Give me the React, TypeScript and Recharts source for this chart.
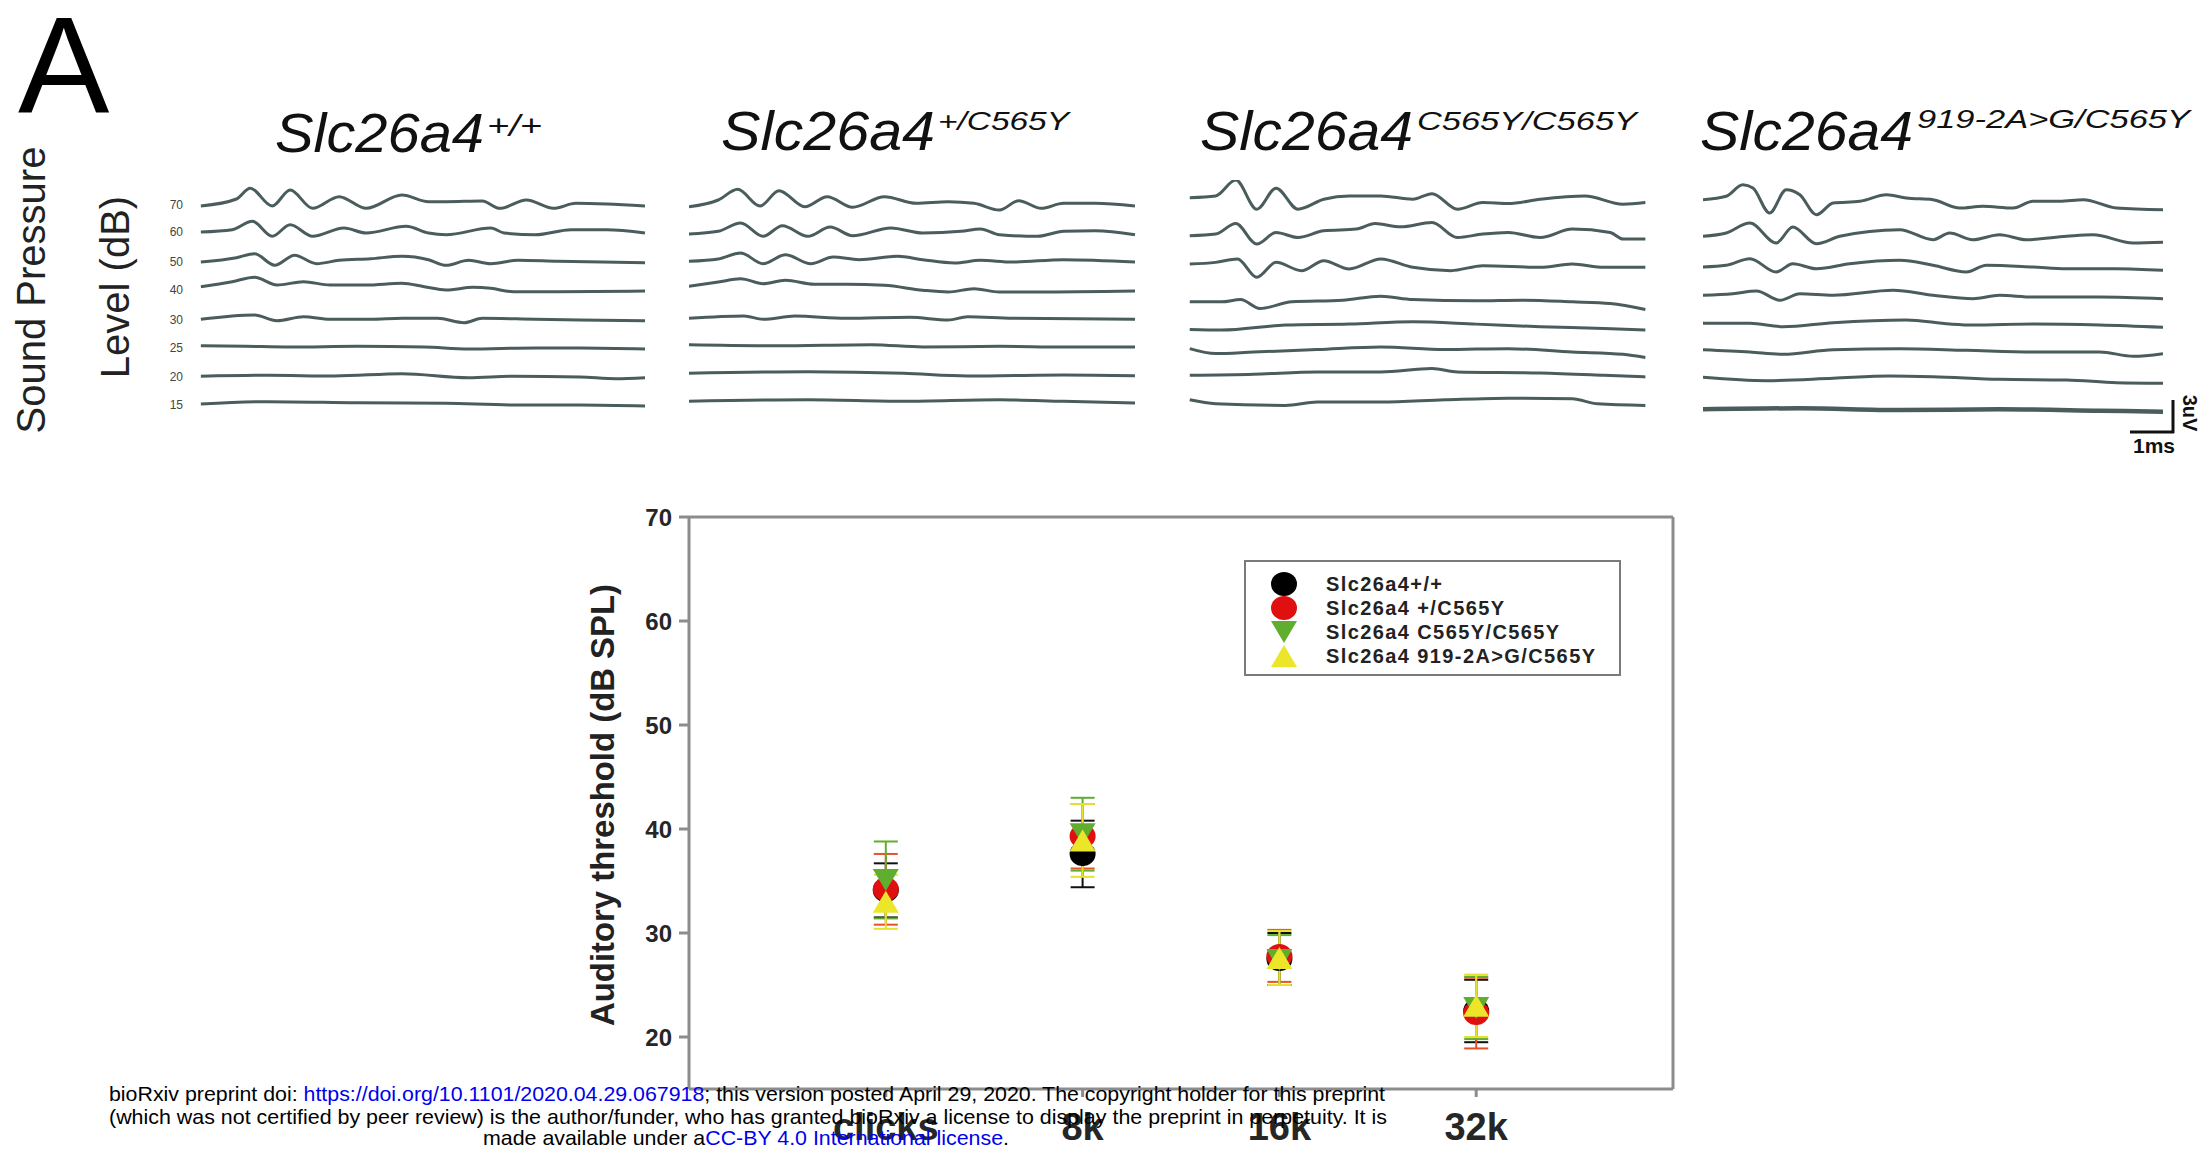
import React from "react";
import {
  LineChart, Line, XAxis, YAxis, ScatterChart, Scatter, ErrorBar, ReferenceLine, Legend,
} from "recharts";

const FONT = "'Liberation Sans', Arial, sans-serif";
const NARROW = "'Liberation Sans Narrow', 'Liberation Sans', Arial, sans-serif";

// ---- ABR traces: stimulus levels, row offsets per panel, traces as [time ms[], deflection[]]
const LEVELS = ["70", "60", "50", "40", "30", "25", "20", "15"];

const P1_OFF = [22.5, 19.8, 16.8, 14.0, 11.0, 8.2, 5.3, 2.5];
const P1: [number[], number[]][] = [
  [[0.09, 0.92, 1.24, 1.75, 2.17, 2.69, 3.31, 3.94, 4.77, 5.39, 5.8, 6.64, 7.05, 7.67, 8.3, 8.82, 9.54, 10.43],
   [-0.1, 0.6, 1.67, -0.1, 1.5, -0.33, 0.83, -0.33, 1.0, 0.33, 0.33, 0.4, -0.33, 0.5, -0.33, 0.17, 0.1, -0.1]],
  [[0.09, 0.82, 1.29, 1.75, 2.17, 2.69, 3.42, 3.94, 4.87, 5.39, 5.8, 6.84, 7.15, 7.88, 8.71, 9.54, 10.43],
   [0, 0.23, 1.07, -0.43, 0.73, -0.43, 0.4, -0.1, 0.57, -0.1, -0.27, 0.4, -0.1, -0.27, 0.23, 0.23, -0.1]],
  [[0.09, 0.92, 1.34, 1.81, 2.27, 2.79, 3.31, 4.04, 4.77, 5.39, 5.8, 6.32, 6.84, 7.47, 8.4, 9.44, 10.43],
   [0, 0.43, 0.83, -0.33, 0.67, -0.17, 0.17, 0.33, 0.57, 0.23, -0.33, 0.17, -0.17, 0.17, 0.07, 0, -0.07]],
  [[0.09, 0.82, 1.34, 1.86, 2.48, 3.1, 3.94, 4.77, 5.29, 5.8, 6.43, 6.84, 7.36, 8.4, 10.43],
   [0.33, 0.83, 1.27, 0.5, 0.83, 0.5, 0.5, 0.67, 0.33, 0, 0.27, 0.17, -0.17, -0.17, -0.1]],
  [[0.09, 1.34, 1.86, 2.48, 3.1, 4.04, 4.77, 5.6, 6.22, 6.64, 7.88, 8.92, 10.43],
   [0.07, 0.5, -0.07, 0.33, 0.07, 0.07, 0.17, 0.17, -0.27, 0.17, 0.07, 0, -0.07]],
  [[0.09, 1.13, 2.17, 3.73, 5.29, 6.32, 7.88, 8.92, 10.43],
   [0.23, 0.17, 0.1, 0.17, 0.1, -0.1, 0, 0, -0.1]],
  [[0.09, 1.65, 3.21, 4.77, 6.32, 7.36, 8.92, 9.75, 10.43],
   [0.07, 0.17, 0.1, 0.33, -0.07, 0.07, 0, -0.17, -0.07]],
  [[0.09, 1.65, 3.73, 5.8, 7.36, 8.92, 10.43],
   [0.1, 0.33, 0.23, 0.17, 0, 0, -0.1]],
];

const P2_OFF = [22.4, 19.6, 16.8, 13.9, 11.1, 8.3, 5.5, 2.7];
const P2: [number[], number[]][] = [
  [[0, 0.68, 1.13, 1.65, 2.09, 2.69, 3.21, 3.8, 4.54, 5.28, 6.02, 6.62, 7.21, 7.66, 8.18, 8.7, 9.44, 10.36],
   [-0.07, 0.6, 1.67, 0, 1.53, -0.07, 0.93, -0.13, 0.93, 0.27, 0.43, 0.27, -0.4, 0.53, -0.23, 0.27, 0.27, 0]],
  [[0, 0.68, 1.2, 1.72, 2.17, 2.76, 3.28, 3.8, 4.69, 5.43, 6.32, 6.77, 7.21, 8.1, 8.7, 9.44, 10.36],
   [0, 0.27, 1.1, -0.23, 0.83, -0.23, 0.7, -0.17, 0.6, 0.1, 0.27, 0.5, -0.07, -0.23, 0.27, 0.33, -0.07]],
  [[0, 0.68, 1.2, 1.72, 2.24, 2.83, 3.35, 3.95, 4.84, 5.43, 6.17, 6.77, 7.51, 8.7, 10.36],
   [0.07, 0.3, 0.9, -0.17, 0.73, -0.17, 0.5, 0.23, 0.57, 0.23, -0.1, 0.17, 0, 0.23, 0]],
  [[0, 0.68, 1.2, 1.72, 2.24, 2.91, 3.65, 4.54, 5.43, 6.02, 6.62, 7.21, 8.1, 10.36],
   [0.47, 0.9, 1.23, 0.73, 1.07, 0.67, 0.67, 0.57, 0.07, -0.1, 0.23, -0.1, -0.1, 0]],
  [[0, 1.28, 1.72, 2.46, 3.65, 5.13, 6.02, 6.47, 7.51, 10.36],
   [0.07, 0.3, -0.03, 0.3, 0.07, 0.17, -0.1, 0.23, 0.07, -0.03]],
  [[0, 2.02, 4.24, 5.43, 7.21, 8.7, 10.36],
   [0.23, 0.13, 0.23, 0, 0.07, 0, 0]],
  [[0, 2.76, 4.99, 6.47, 8.7, 10.36],
   [0.17, 0.33, 0.17, -0.1, 0, -0.07]],
  [[0, 2.76, 4.99, 7.21, 8.7, 10.36],
   [0.17, 0.33, 0.17, 0.33, 0.17, 0]],
];

const P3_OFF = [23.0, 19.5, 16.5, 12.7, 10.2, 8.0, 5.5, 2.8];
const P3: [number[], number[]][] = [
  [[0.04, 0.63, 1.09, 1.57, 2.01, 2.51, 3.1, 3.68, 4.4, 5.13, 5.57, 6.15, 6.73, 7.31, 8.04, 9.06, 9.93, 10.44],
   [0.33, 0.5, 2.1, -0.83, 1.27, -0.83, 0.17, 0.5, 0.5, 0.17, 0.73, -0.83, -0.17, -0.27, 0.17, 0.5, -0.33, -0.17]],
  [[0.04, 0.63, 1.09, 1.57, 2.01, 2.51, 3.1, 3.84, 4.27, 4.85, 5.57, 6.15, 6.73, 7.31, 8.04, 8.77, 9.64, 9.93, 10.44],
   [0, 0.17, 1.23, -0.83, 0.33, -0.17, 0.5, 0.67, 1.23, 0.9, 1.33, -0.17, 0.17, 0.33, -0.17, 0.67, 0.33, -0.33, -0.33]],
  [[0.04, 0.63, 1.13, 1.57, 2.01, 2.59, 3.1, 3.68, 4.4, 5.13, 6.0, 6.73, 8.04, 8.77, 9.5, 10.44],
   [0.17, 0.33, 0.67, -1.17, 0.33, -0.5, 0.5, -0.33, 0.67, -0.17, -0.5, 0, -0.17, 0.17, -0.17, -0.17]],
  [[0.04, 0.77, 1.2, 1.64, 2.37, 3.53, 4.4, 5.13, 6.58, 7.6, 8.77, 9.64, 10.44],
   [0.17, 0.17, 0.4, -0.5, 0.17, 0.33, 0.73, 0.4, 0.27, 0.33, 0.17, 0, -0.6]],
  [[0.04, 0.77, 2.22, 3.68, 5.13, 6.58, 8.04, 9.5, 10.44],
   [-0.1, -0.17, 0.33, 0.43, 0.67, 0.43, 0.17, 0, -0.17]],
  [[0.04, 0.63, 1.5, 2.95, 4.4, 5.86, 7.31, 8.77, 9.93, 10.44],
   [0.17, -0.33, -0.17, 0.07, 0.33, 0.07, 0.17, -0.17, -0.4, -0.73]],
  [[0.04, 1.5, 2.95, 4.4, 5.57, 6.15, 8.04, 9.5, 10.44],
   [0, 0.1, 0.33, 0.33, 0.67, 0.33, 0.23, 0, -0.17]],
  [[0.04, 0.63, 2.22, 2.95, 4.4, 5.86, 7.31, 8.77, 9.35, 10.44],
   [0.23, -0.17, -0.33, 0, 0, 0.23, 0.4, 0.33, -0.17, -0.33]],
];

const P4_OFF = [22.7, 19.2, 16.3, 13.3, 10.5, 7.8, 5.0, 2.0];
const P4: [number[], number[]][] = [
  [[0, 0.53, 0.91, 1.14, 1.52, 1.9, 2.21, 2.59, 2.97, 3.58, 4.19, 4.64, 5.25, 5.86, 6.39, 7.08, 7.53, 8.14, 8.68, 9.44, 10.5],
   [0.33, 0.67, 1.83, 1.5, -1, 1.33, 0.83, -1.17, 0, 0.17, 0.83, 0.5, 0.33, -0.5, -0.33, -0.5, 0.17, 0.17, 0.33, -0.5, -0.67]],
  [[0, 0.53, 1.07, 1.67, 2.05, 2.59, 3.12, 4.49, 5.25, 5.63, 6.16, 6.77, 7.38, 8.3, 8.9, 9.82, 10.5],
   [0.17, 0.5, 1.5, -0.5, 1.1, -0.57, 0.17, 0.83, -0.17, 0.5, -0.17, 0.33, -0.17, 0.17, 0.33, -0.5, -0.43]],
  [[0, 0.53, 1.07, 1.67, 2.05, 2.59, 3.35, 4.49, 5.25, 6.01, 6.47, 7.53, 8.3, 9.44, 10.5],
   [0, 0.17, 0.83, -0.5, 0.33, -0.17, 0.33, 0.67, 0.17, -0.5, 0.17, 0, -0.17, -0.17, -0.33]],
  [[0, 0.68, 1.22, 1.76, 2.21, 2.97, 4.34, 5.25, 6.16, 6.77, 7.53, 9.06, 10.5],
   [0.17, 0.33, 0.6, -0.33, 0.33, 0.17, 0.67, 0.17, -0.17, 0.17, 0, 0, -0.17]],
  [[0, 1.07, 1.83, 2.97, 4.64, 5.63, 6.16, 7.53, 9.06, 10.5],
   [0.17, 0.17, -0.17, 0.23, 0.5, 0.1, 0, 0.1, 0, -0.23]],
  [[0, 1.07, 1.83, 2.97, 4.49, 6.01, 7.53, 9.06, 9.82, 10.5],
   [0.23, 0, -0.23, 0.23, 0.33, 0.17, 0, 0, -0.43, -0.17]],
  [[0, 1.45, 2.97, 4.26, 5.25, 6.77, 8.3, 9.44, 10.5],
   [0.27, -0.07, 0.17, 0.4, 0.33, 0.07, 0, -0.27, -0.33]],
  [[0, 2.21, 4.49, 6.77, 9.06, 10.5],
   [0.07, 0.17, 0, 0.07, -0.07, -0.17]],
];

// ---- Thresholds (dB SPL), mean and error per stimulus
const CATS = ["clicks", "8k", "16k", "32k"];
const WT_MEAN = [34.1, 37.6, 27.5, 22.5];
const WT_ERR = [2.6, 3.2, 2.5, 3.0];
const HET_MEAN = [34.2, 39.3, 27.8, 22.3];
const HET_ERR = [3.4, 3.1, 2.5, 3.4];
const HOM_MEAN = [35.1, 39.5, 27.4, 22.8];
const HOM_ERR = [3.7, 3.5, 2.4, 3.0];
const CMP_MEAN = [33.0, 38.9, 27.6, 23.0];
const CMP_ERR = [2.6, 3.5, 2.6, 3.0];

const toPoints = (mean: number[], err: number[]) =>
  CATS.map((_, i) => ({ x: i + 1, y: mean[i], err: err[i] }));

const SERIES = [
  { name: "Slc26a4+/+", color: "#000000", bar: "#111111", shape: "circle", data: toPoints(WT_MEAN, WT_ERR) },
  { name: "Slc26a4 +/C565Y", color: "#e01010", bar: "#e8502a", shape: "circle", data: toPoints(HET_MEAN, HET_ERR) },
  { name: "Slc26a4 C565Y/C565Y", color: "#5fae2e", bar: "#5fae2e", shape: "down", data: toPoints(HOM_MEAN, HOM_ERR) },
  { name: "Slc26a4 919-2A>G/C565Y", color: "#ece62a", bar: "#e8e030", shape: "up", data: toPoints(CMP_MEAN, CMP_ERR) },
];

const TRACE = "#4a5c5c";
const AXIS = "#8c8c8c";

function Marker({ kind, cx, cy, fill }: { kind: string; cx: number; cy: number; fill: string }) {
  if (kind === "circle") return <ellipse cx={cx} cy={cy} rx={13} ry={12} fill={fill} />;
  if (kind === "down")
    return <polygon points={`${cx - 13},${cy - 11} ${cx + 13},${cy - 11} ${cx},${cy + 11}`} fill={fill} />;
  return <polygon points={`${cx - 13},${cy + 11} ${cx + 13},${cy + 11} ${cx},${cy - 11}`} fill={fill} />;
}

function TracePanel({ left, width, offsets, traces, labels, thickLast }: {
  left: number; width: number; offsets: number[]; traces: [number[], number[]][]; labels?: boolean; thickLast?: boolean;
}) {
  const axisW = labels ? 40 : 0;
  return (
    <div style={{ position: "absolute", left: left - axisW, top: 180 }}>
      <LineChart width={width + axisW} height={250} margin={{ top: 0, right: 0, bottom: 0, left: 0 }}>
        <XAxis type="number" dataKey="t" domain={[0, 10.5]} hide allowDataOverflow />
        <YAxis
          type="number"
          domain={[0, 25]}
          hide={!labels}
          width={axisW}
          ticks={offsets}
          interval={0}
          tickFormatter={(v: number) => LEVELS[offsets.indexOf(v)] ?? ""}
          axisLine={false}
          tickLine={false}
          tickSize={0}
          tickMargin={14}
          tick={{ fontSize: 12, fill: "#444", fontFamily: NARROW }}
        />
        {traces.map(([t, d], i) => (
          <Line
            key={i}
            data={t.map((x, k) => ({ t: x, v: offsets[i] + d[k] }))}
            dataKey="v"
            type="monotone"
            dot={false}
            stroke={TRACE}
            strokeWidth={thickLast && i === traces.length - 1 ? 4.5 : 3}
            strokeLinejoin="round"
            isAnimationActive={false}
          />
        ))}
      </LineChart>
    </div>
  );
}

function LegendBox() {
  return (
    <div style={{
      border: "2px solid #7a7a7a", boxSizing: "border-box", width: 377, height: 116,
      padding: "10px 0", background: "#fff", fontFamily: FONT,
    }}>
      {SERIES.map((s) => (
        <div key={s.name} style={{ display: "flex", alignItems: "center", height: 24 }}>
          <svg width={80} height={24} style={{ flex: "none" }}>
            <Marker kind={s.shape} cx={38} cy={12} fill={s.color} />
          </svg>
          <span style={{ fontSize: 20, fontWeight: 700, color: "#222", letterSpacing: 1.4, whiteSpace: "nowrap" }}>
            {s.name}
          </span>
        </div>
      ))}
    </div>
  );
}

export default function App() {
  return (
    <div style={{ position: "absolute", left: 0, top: 0, width: 2204, height: 1158, overflow: "hidden", background: "#fff", fontFamily: FONT }}>
      <TracePanel left={197} width={451} offsets={P1_OFF} traces={P1} labels />
      <TracePanel left={689} width={452} offsets={P2_OFF} traces={P2} />
      <TracePanel left={1188} width={460} offsets={P3_OFF} traces={P3} />
      <TracePanel left={1703} width={460} offsets={P4_OFF} traces={P4} thickLast />

      <div style={{ position: "absolute", left: 560, top: 480 }}>
        <ScatterChart width={1133} height={678} margin={{ top: 37, right: 20, bottom: 9, left: 0 }}>
          <XAxis
            type="number"
            dataKey="x"
            domain={[0, 5]}
            ticks={[1, 2, 3, 4]}
            tickFormatter={(v: number) => CATS[v - 1]}
            height={60}
            stroke={AXIS}
            strokeWidth={3}
            tickSize={8}
            tickMargin={16}
            tick={{ fontSize: 38, fontWeight: 700, fill: "#262626", fontFamily: FONT }}
            allowDataOverflow
          />
          <YAxis
            type="number"
            dataKey="y"
            domain={[15, 70]}
            ticks={[20, 30, 40, 50, 60, 70]}
            width={129}
            stroke={AXIS}
            strokeWidth={3}
            tickSize={10}
            tickMargin={7}
            tick={{ fontSize: 24, fontWeight: 700, fill: "#262626", fontFamily: FONT }}
            allowDataOverflow
          />
          <ReferenceLine y={70} stroke={AXIS} strokeWidth={3} />
          <ReferenceLine x={5} stroke={AXIS} strokeWidth={3} />
          {SERIES.map((s) => (
            <Scatter
              key={s.name}
              name={s.name}
              data={s.data}
              fill={s.color}
              isAnimationActive={false}
              shape={(p: any) => <Marker kind={s.shape} cx={p.cx} cy={p.cy} fill={s.color} />}
            >
              <ErrorBar dataKey="err" direction="y" width={12} stroke={s.bar} strokeWidth={2} />
            </Scatter>
          ))}
          <Legend
            layout="horizontal"
            verticalAlign="middle"
            align="center"
            content={() => <LegendBox />}
            wrapperStyle={{ left: 684, top: 80, width: 377, height: 116 }}
          />
        </ScatterChart>
      </div>

      <svg width={2204} height={1158} style={{ position: "absolute", left: 0, top: 0, pointerEvents: "none" }} fontFamily={FONT}>
        <text x={18} y={113} fontSize={137} fill="#000">A</text>

        <g fontStyle="italic" fill="#111">
          <text x={275} y={152} fontSize={55} textLength={209} lengthAdjust="spacingAndGlyphs">Slc26a4</text>
          <text x={487} y={136} fontSize={29} textLength={55} lengthAdjust="spacingAndGlyphs">+/+</text>
          <text x={721} y={150} fontSize={55} textLength={214} lengthAdjust="spacingAndGlyphs">Slc26a4</text>
          <text x={938} y={130} fontSize={26} textLength={131} lengthAdjust="spacingAndGlyphs">+/C565Y</text>
          <text x={1200} y={150} fontSize={55} textLength={213} lengthAdjust="spacingAndGlyphs">Slc26a4</text>
          <text x={1417} y={130} fontSize={26} textLength={220} lengthAdjust="spacingAndGlyphs">C565Y/C565Y</text>
          <text x={1700} y={150} fontSize={55} textLength={213} lengthAdjust="spacingAndGlyphs">Slc26a4</text>
          <text x={1917} y={128} fontSize={26} textLength={273} lengthAdjust="spacingAndGlyphs">919-2A&gt;G/C565Y</text>
        </g>

        <text transform="translate(31,290) rotate(-90)" textAnchor="middle" dominantBaseline="central" fontSize={40} fill="#222">Sound Pressure</text>
        <text transform="translate(115,287) rotate(-90)" textAnchor="middle" dominantBaseline="central" fontSize={40} fill="#222">Level (dB)</text>

        <g stroke="#111" strokeWidth={3} fill="none">
          <line x1={2130} y1={432} x2={2174} y2={432} />
          <line x1={2173} y1={400} x2={2173} y2={433} />
        </g>
        <text x={2154} y={453} textAnchor="middle" fontSize={21} fontWeight={700} fill="#111">1ms</text>
        <text transform="translate(2190,413) rotate(90)" textAnchor="middle" dominantBaseline="central" fontSize={20} fontWeight={700} fill="#111">3uV</text>

        <text transform="translate(602,805) rotate(-90)" textAnchor="middle" dominantBaseline="central" fontSize={33} fontWeight={700} fill="#222" textLength={442} lengthAdjust="spacingAndGlyphs">Auditory threshold (dB SPL)</text>

        <g fontFamily={NARROW} fontSize={21} fill="#000">
          <text x={109} y={1101} textLength={1276} lengthAdjust="spacingAndGlyphs">
            bioRxiv preprint doi: <tspan fill="#0000ee">https://doi.org/10.1101/2020.04.29.067918</tspan>; this version posted April 29, 2020. The copyright holder for this preprint
          </text>
          <text x={109} y={1124} textLength={1278} lengthAdjust="spacingAndGlyphs">
            (which was not certified by peer review) is the author/funder, who has granted bioRxiv a license to display the preprint in perpetuity. It is
          </text>
          <text x={483} y={1145} textLength={526} lengthAdjust="spacingAndGlyphs">
            made available under a<tspan fill="#0000ee">CC-BY 4.0 International license</tspan>.
          </text>
        </g>
      </svg>
    </div>
  );
}
